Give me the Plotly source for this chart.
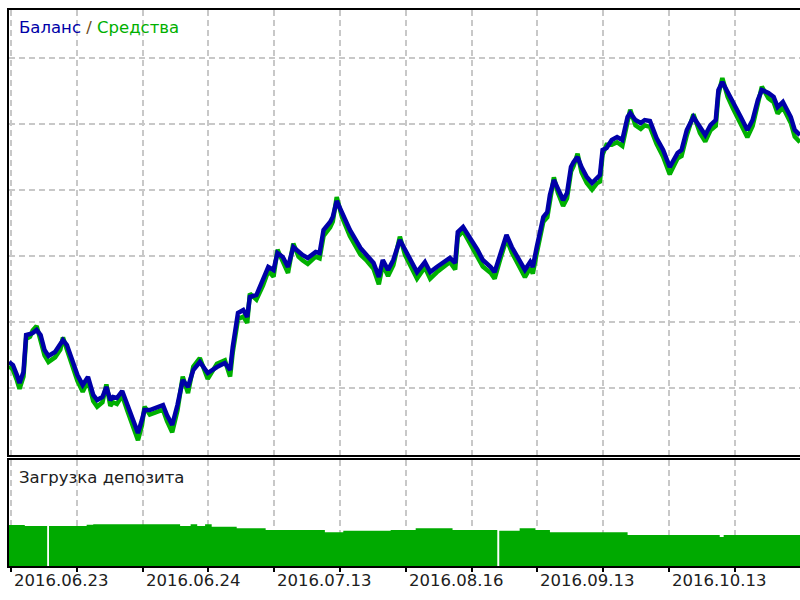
import plotly.graph_objects as go

# ---- data ----
trade_no = [0, 3, 6, 8, 11, 13, 16, 18, 21, 24, 27, 30, 35, 39, 41, 44, 48, 52, 56, 60,
            64, 67, 71, 74, 77, 79, 82, 86, 90, 94, 98, 101, 103, 107, 113, 117, 120, 124, 128, 132,
            136, 140, 145, 151, 158, 164, 168, 170, 174, 178, 181, 183, 188, 193, 197, 201, 204, 208, 212, 216,
            220, 223, 227, 233, 236, 239, 244, 246, 249, 253, 259, 267, 272, 277, 281, 284, 288, 292, 297, 301,
            306, 310, 316, 320, 325, 331, 335, 339, 341, 345, 349, 356, 360, 366, 369, 373, 378, 382, 388, 392,
            396, 398, 401, 404, 406, 409, 411, 414, 417, 421, 424, 427, 429, 432, 435, 439, 443, 447, 449, 451,
            454, 458, 462, 466, 470, 472, 476, 480, 483, 487, 492, 497, 502, 508, 511, 515, 520, 525, 529, 533,
            537, 539, 542, 546, 550, 556, 561, 565, 569, 572, 577, 581, 584, 588, 594, 597, 601]

balance = [11394, 11348, 11197, 11076, 11242, 11803, 11818, 11833, 11879, 11803, 11576, 11485, 11545, 11651, 11727, 11651, 11424, 11197, 11045, 11167,
           10894, 10818, 10864, 11015, 10818, 10864, 10848, 10955, 10742, 10515, 10318, 10515, 10667, 10667, 10712, 10742, 10591, 10439, 10742, 11121,
           11015, 11273, 11394, 11227, 11318, 11379, 11273, 11621, 12136, 12182, 12076, 12379, 12409, 12636, 12833, 12788, 13045, 12985, 12833, 13136,
           13060, 13015, 12970, 13060, 13045, 13394, 13515, 13591, 13833, 13651, 13394, 13121, 13015, 12894, 12682, 12939, 12788, 12939, 13242, 13091,
           12894, 12757, 12909, 12757, 12833, 12909, 12970, 12894, 13363, 13439, 13318, 13091, 12939, 12833, 12757, 13015, 13318, 13136, 12909, 12788,
           12909, 12833, 13136, 13394, 13591, 13666, 13924, 14151, 14030, 13848, 13954, 14348, 14424, 14500, 14348, 14197, 14106, 14197, 14227, 14606,
           14636, 14757, 14803, 14757, 15106, 15166, 15060, 15015, 15060, 15045, 14788, 14606, 14348, 14560, 14606, 14909, 15106, 14954, 14833, 14984,
           15060, 15515, 15636, 15484, 15318, 15106, 14909, 15060, 15363, 15515, 15469, 15409, 15257, 15333, 15106, 14909, 14833]

# equity minus balance, read from the green edges around the blue line
equity_gap = [-60, -70, -80, -90, -70, -60, -40, 40, 60, -60, -80, -90, -80, -70, 40, -70, -80, -90, -100, -60,
              -90, -100, -80, 40, -90, -80, -90, -70, -90, -100, -110, -80, 50, -70, -80, -70, -90, -110, -80, 50,
              -90, 50, 60, -90, 50, 40, -100, -80, -90, -100, -90, 50, -70, -80, -60, -100, 50, -60, -90, 50,
              -70, -80, -90, -70, -80, -90, -80, -70, 60, -60, -90, -100, -90, -90, -110, -70, -90, -80, 50, -80,
              -90, -100, -80, -100, -80, -70, -60, -100, -70, -60, -80, -90, -100, -90, -100, -80, -60, -80, -100, -110,
              -90, -100, -90, -80, -70, -80, -70, 40, -70, -90, -80, -70, -60, 50, -80, -90, -100, -90, -100, -70,
              50, -70, -80, -90, -70, 50, -80, -90, -80, -90, -90, -100, -110, -80, -90, -80, 40, -90, -100, -80,
              -90, -70, 60, -70, -80, -90, -110, -90, -70, 50, -80, -80, -100, -80, -90, -100, -110]

equity = [b + g for b, g in zip(balance, equity_gap)]

load_x = [0, 12, 29, 30.4, 59, 64, 130, 138, 143, 149, 154, 173, 195, 240, 254, 290,
          309, 337, 371, 372.5, 388, 400, 411, 470, 540, 543, 601]
load_pct = [38.7, 37.7, 0, 37.7, 39.0, 39.3, 37.7, 39.3, 37.7, 39.3, 37.1, 35.6, 34.0, 31.8, 33.3, 34.0,
            35.6, 34.0, 0, 33.3, 35.6, 34.0, 31.8, 29.2, 27.4, 29.2, 29.2]

tick_pos = [1.5 + 50 * k for k in range(12)]
date_labels = ["2016.06.23", "2016.06.24", "2016.07.13", "2016.08.16", "2016.09.13", "2016.10.13"]

BLUE = "#0000a8"
GREEN = "#00b000"
FILL = "#00aa00"
GRID = "#c8c8c8"

fig = go.Figure()
fig.add_trace(go.Scatter(x=trade_no, y=equity, mode="lines",
                         line=dict(color=GREEN, width=4.5), xaxis="x", yaxis="y",
                         hoverinfo="skip", showlegend=False))
fig.add_trace(go.Scatter(x=trade_no, y=balance, mode="lines",
                         line=dict(color=BLUE, width=4.5), xaxis="x", yaxis="y",
                         showlegend=False))
fig.add_trace(go.Scatter(x=load_x, y=load_pct, mode="lines", line_shape="hv",
                         line=dict(color=FILL, width=0), fill="tozeroy", fillcolor=FILL,
                         xaxis="x2", yaxis="y2", showlegend=False))

PH = 556.0
top_bottom = (566 - 455) / PH
bot_top = (566 - 460) / PH

common_x = dict(range=[0, 601], tickmode="array", tickvals=tick_pos, showgrid=True,
                gridcolor=GRID, gridwidth=1.5, griddash="6px,4px", zeroline=False,
                showline=True, linecolor="black", linewidth=2)

fig.update_layout(
    width=800, height=600,
    margin=dict(l=9, r=0, t=10, b=34),
    paper_bgcolor="white", plot_bgcolor="white",
    xaxis=dict(**common_x, domain=[0, 1], anchor="y", mirror=True, showticklabels=False, ticks=""),
    yaxis=dict(domain=[top_bottom, 1], range=[9985, 16727], anchor="x", tickmode="linear",
               tick0=11000, dtick=1000, showgrid=True, gridcolor=GRID, gridwidth=1.5,
               griddash="6px,4px", zeroline=False, showticklabels=False,
               showline=True, linecolor="black", linewidth=2),
    xaxis2=dict(**common_x, domain=[0, 1], anchor="y2", mirror=True, showticklabels=False,
                ticks="outside", ticklen=4, tickwidth=2, tickcolor="black"),
    yaxis2=dict(domain=[0, bot_top], range=[0, 100], anchor="x2", showgrid=False,
                zeroline=False, showticklabels=False, showline=True, linecolor="black", linewidth=2),
    font=dict(family="DejaVu Sans", size=16.5, color="black"),
)

fig.add_annotation(xref="paper", yref="paper", x=0.01, y=(566 - 27) / PH, xanchor="left",
                   yanchor="middle", showarrow=False,
                   text="<span style='color:%s'>Баланс</span> <span style='color:#6a4a20'>/</span> "
                        "<span style='color:%s'>Средства</span>" % (BLUE, GREEN),
                   font=dict(size=16.5))
fig.add_annotation(xref="paper", yref="paper", x=0.01, y=(566 - 477) / PH, xanchor="left",
                   yanchor="middle", showarrow=False, text="Загрузка депозита",
                   font=dict(size=16.5, color="#202020"))

for i, lab in enumerate(date_labels):
    fig.add_annotation(xref="x2", yref="paper", x=tick_pos[2 * i], y=(566 - 580) / PH,
                       xanchor="left", yanchor="middle", showarrow=False, xshift=1,
                       text=lab, font=dict(size=16.5, color="#202020"))

fig.write_html("out.html")
